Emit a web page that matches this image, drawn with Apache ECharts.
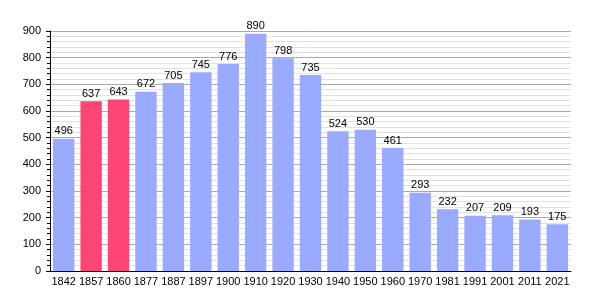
<!DOCTYPE html>
<html><head><meta charset="utf-8">
<script src="https://cdn.jsdelivr.net/npm/echarts@6/dist/echarts.min.js"></script>
<style>html,body{margin:0;padding:0;background:#fff}#c{width:600px;height:300px}</style>
</head><body><div id="c"></div>
<script>
const years = ['1842','1857','1860','1877','1887','1897','1900','1910','1920','1930','1940','1950','1960','1970','1981','1991','2001','2011','2021'];
const population = [496,637,643,672,705,745,776,890,798,735,524,530,461,293,232,207,209,193,175];
const highlighted = ['1857','1860'];
const yTicks = [0,100,200,300,400,500,600,700,800,900];

const blue = '#99aaff', pink = '#ff4477';
const chart = echarts.init(document.getElementById('c'), null, {renderer:'canvas'});
chart.setOption({
  animation:false,
  grid:{left:50, right:29, top:31, bottom:29},
  xAxis:{type:'category', data:years,
    axisLine:{lineStyle:{color:'#000', width:1}},
    axisTick:{show:false},
    axisLabel:{interval:0, color:'#000', fontSize:11, fontFamily:'Liberation Sans', margin:5}},
  yAxis:{type:'value', min:yTicks[0], max:yTicks[yTicks.length-1], interval:100,
    axisLine:{show:true, lineStyle:{color:'#000'}},
    axisTick:{show:true, length:4, inside:false, lineStyle:{color:'#000'}},
    minorTick:{show:true, splitNumber:5, length:3, lineStyle:{color:'#000'}},
    splitLine:{lineStyle:{color:'#aaa'}},
    minorSplitLine:{show:true, lineStyle:{color:'#e2e2e2'}},
    axisLabel:{color:'#000', fontSize:11, fontFamily:'Liberation Sans', margin:9}},
  series:[{type:'bar', barCategoryGap:'22%',
    data: population.map((v,i)=>({value:v, itemStyle:{color: highlighted.includes(years[i])?pink:blue}})),
    label:{show:true, position:'top', distance:2, color:'#000', fontSize:11, fontFamily:'Liberation Sans'}}]
});
</script></body></html>
